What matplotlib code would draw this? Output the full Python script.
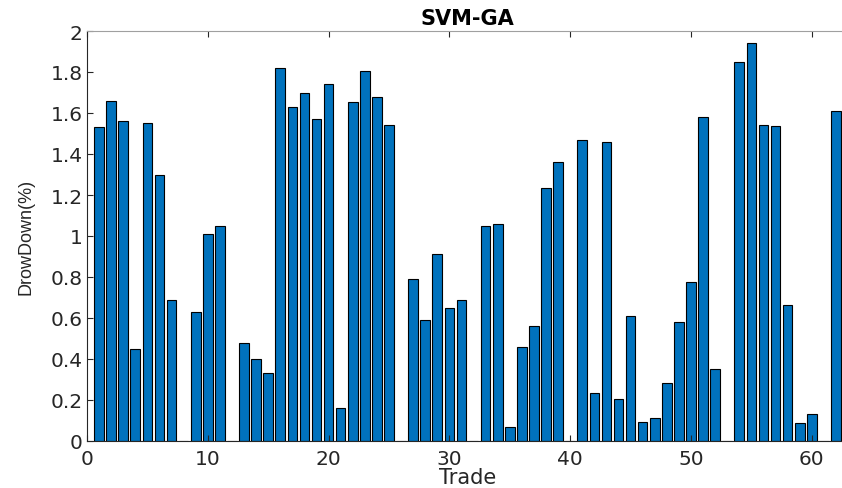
import numpy as np
import matplotlib
matplotlib.use("Agg")
import matplotlib.pyplot as plt

trades = np.arange(1, 63)
drawdown = [1.53, 1.66, 1.56, 0.45, 1.55, 1.30, 0.69, 0.0, 0.63, 1.01,
            1.05, 0.0, 0.48, 0.40, 0.33, 1.82, 1.63, 1.70, 1.57, 1.74,
            0.16, 1.655, 1.805, 1.68, 1.54, 0.0, 0.79, 0.59, 0.91, 0.65,
            0.69, 0.0, 1.05, 1.06, 0.068, 0.46, 0.56, 1.235, 1.36, 0.0,
            1.47, 0.236, 1.46, 0.205, 0.61, 0.091, 0.111, 0.283, 0.58, 0.774,
            1.58, 0.35, 0.0, 1.85, 1.94, 1.54, 1.535, 0.665, 0.088, 0.13,
            0.0, 1.61]
xticks = [0, 10, 20, 30, 40, 50, 60]
yticks = [0, 0.2, 0.4, 0.6, 0.8, 1, 1.2, 1.4, 1.6, 1.8, 2]
ytick_labels = ["0", "0.2", "0.4", "0.6", "0.8", "1", "1.2", "1.4", "1.6", "1.8", "2"]

plt.rcParams['font.family'] = ['DejaVu Sans']

fig = plt.figure(figsize=(8.42, 4.89), dpi=100)
W, H = 842, 489
left, right, top, bottom = 87, 848, 32, 442
ax = fig.add_axes([left / W, (H - bottom) / H, (right - left) / W, (bottom - top) / H])

ax.bar(trades, drawdown, width=0.8, color='#0072BD', edgecolor='black', linewidth=0.8)
ax.set_xlim(0, 63)
ax.set_ylim(0, 2)
ax.set_xticks(xticks)
ax.set_yticks(yticks)
ax.set_yticklabels(ytick_labels)
ax.tick_params(direction='in', length=4, labelsize=14.5, colors='#262626', width=0.8)
ax.tick_params(axis='x', pad=6)
ax.tick_params(axis='y', pad=3)
ax.tick_params(top=True, right=False)
for s in ['top', 'right']:
    ax.spines[s].set_color('#a0a0a0')
for s in ['left', 'bottom']:
    ax.spines[s].set_color('#262626')
ax.set_title('SVM-GA', fontsize=15, fontweight='bold', pad=5)
ax.set_xlabel('Trade', fontsize=15, color='#262626', labelpad=-1)
ax.set_ylabel('DrowDown(%)', fontsize=13, color='#262626', labelpad=12,
              family=['Liberation Sans', 'DejaVu Sans'])

fig.savefig('out.png', dpi=100)
